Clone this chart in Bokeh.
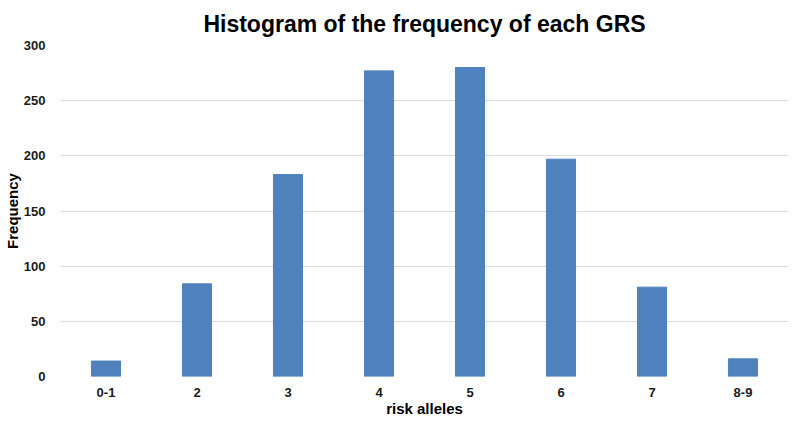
from bokeh.plotting import figure
from bokeh.models import Range1d, FactorRange
from bokeh.embed import file_html
from bokeh.resources import INLINE

categories = ["0-1", "2", "3", "4", "5", "6", "7", "8-9"]
frequency = [14, 84, 183, 277, 280, 197, 81, 16]
y_ticks = [0, 50, 100, 150, 200, 250, 300]

p = figure(x_range=FactorRange(*categories, range_padding=0), y_range=Range1d(0, 300),
           frame_width=728, frame_height=331, output_backend="svg", toolbar_location=None,
           title="Histogram of the frequency of each GRS",
           min_border_left=0, min_border_right=2, min_border_bottom=0, min_border_top=0)

p.vbar(x=categories, top=frequency, width=0.32, color="#4F81BD")

p.title.align = "center"
p.title.text_font = "Liberation Sans"
p.title.text_font_size = "23px"
p.title.text_font_style = "bold"
p.title.text_color = "#000000"
p.title.standoff = 17

for ax in (p.xaxis, p.yaxis):
    ax.axis_line_color = None
    ax.major_tick_line_color = None
    ax.minor_tick_line_color = None
    ax.major_label_text_font = "Liberation Sans"
    ax.major_label_text_font_style = "bold"
    ax.major_label_text_font_size = "13px"
    ax.major_label_text_color = "#1a1a1a"
    ax.axis_label_text_font = "Liberation Sans"
    ax.axis_label_text_font_style = "bold"
    ax.axis_label_text_font_size = "15px"
    ax.axis_label_text_color = "#000000"

p.yaxis.ticker = y_ticks
p.yaxis.axis_label = "Frequency"
p.yaxis.major_label_standoff = 9
p.yaxis.axis_label_standoff = 0
p.xaxis.axis_label = "risk alleles"
p.xaxis.major_label_standoff = 5
p.xaxis.axis_label_standoff = 0

p.xgrid.grid_line_color = None
p.ygrid.grid_line_color = "#dcdcdc"
p.ygrid.grid_line_width = 1
p.outline_line_color = None
p.background_fill_color = "white"

open("out.html", "w").write(file_html(p, INLINE))
